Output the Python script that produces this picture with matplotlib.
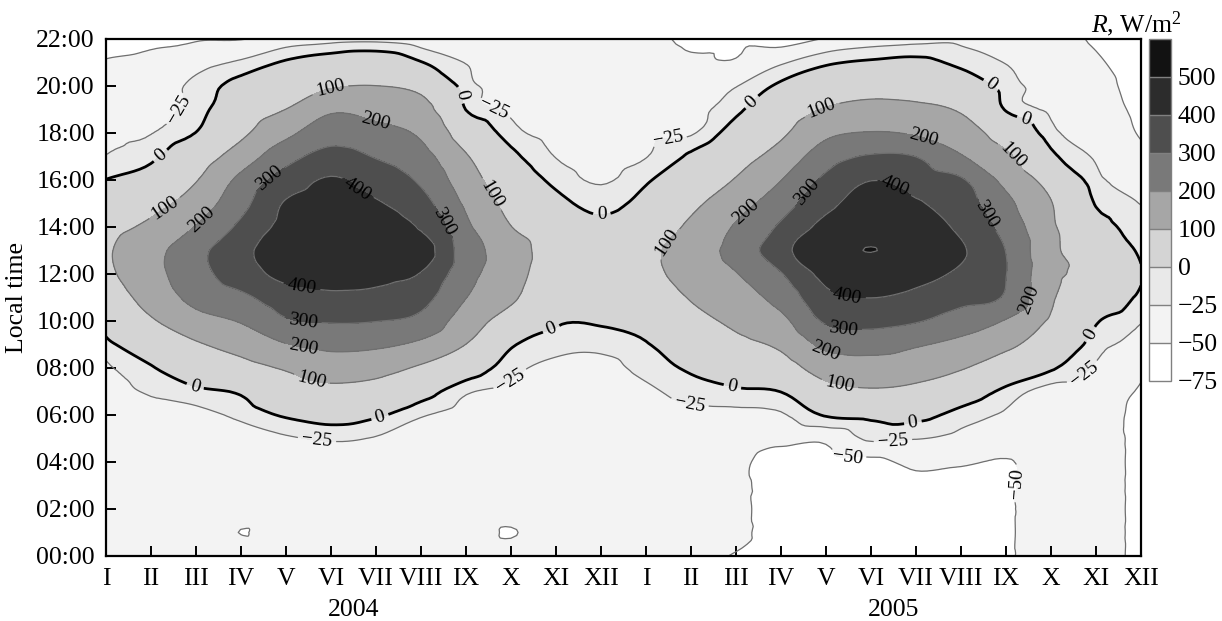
import numpy as np
import matplotlib

matplotlib.use("Agg")

import matplotlib.pyplot as plt  # noqa: E402
import matplotlib.tri as mtri  # noqa: E402
from matplotlib.transforms import blended_transform_factory  # noqa: E402

plt.rcParams["font.family"] = ["Liberation Serif", "DejaVu Serif"]
plt.rcParams["mathtext.fontset"] = "custom"
plt.rcParams["mathtext.rm"] = "Liberation Serif"
plt.rcParams["mathtext.it"] = "Liberation Serif:italic"

# Month labels (two years side by side) and hours of the day
MONTHS = ["I", "II", "III", "IV", "V", "VI", "VII", "VIII", "IX", "X", "XI", "XII"]
YEARS = ["2004", "2005"]
HOURS = list(range(23))

# Contour levels of net radiation R, W/m2
LEVELS = [-75, -50, -25, 0, 100, 200, 300, 400, 500, 600]
LINE_LEVELS = [-50, -25, 0, 100, 200, 300, 400, 500]

# R: one hourly profile (00..22 h) per month
R_2004 = [
    [-40, -40, -40, -40, -40, -40, -38, -35, -29, -10, 18, 50, 80, 88, 70, 35, 1, -24, -30, -36, -42, -49, -55],
    [-40, -40, -40, -40, -38, -35, -32, -22, -4, 35, 90, 135, 165, 165, 120, 70, 25, -8, -26, -32, -38, -46, -53],
    [-40, -41, -42, -42, -40, -37, -32, -8, 45, 90, 165, 230, 265, 270, 205, 145, 95, 50, 1, -15, -18, -35, -52],
    [-40, -50.3, -42, -42, -40, -35, -19, 6, 69, 136, 207, 279, 350, 370, 320, 269, 224, 147, 81, 48, 16, -21, -51],
    [-42, -42, -42, -42, -38, -28, 5, 55, 109, 196, 290, 353, 430, 460, 430, 409, 343, 264, 177, 101, 52, 5, -40],
    [-42, -42, -42, -42, -36, -22, 20, 77, 146, 225, 307, 381, 440, 470, 470, 445, 410, 333, 257, 186, 93, 24, -35],
    [-42, -42, -42, -42, -38, -27, 6, 65, 133, 217, 302, 377, 425, 455, 450, 410, 356, 294, 231, 167, 101, 31, -33],
    [-42, -42, -42, -42, -41, -34, -22, 20, 87, 180, 273, 335, 395, 450, 390, 337, 285, 235, 185, 135, 77, 2, -40],
    [-42, -43, -42, -42, -42, -40, -35, -21, 29, 99, 150, 202, 235, 250, 220, 185, 146, 108, 53, -1, -14, -26, -45],
    [-44, -50.8, -44, -43, -42, -41, -38, -32, -16, 6, 61, 115, 140, 150, 102, 71, 41, 12, -15, -30, -35, -40, -48],
    [-42, -42, -42, -42, -42, -42, -41, -38, -32, -15, 7, 30, 45, 50, 38, 14, -9, -26, -33, -38, -42, -46, -48],
    [-43, -43, -43, -43, -43, -43, -43, -40, -33, -18, 5, 22, 30, 24, 10, -10, -28, -35, -40, -43, -46, -47, -47],
]
R_2005 = [
    [-43, -43, -43, -43, -43, -43, -38, -30, -17, -3, 18, 42, 72, 74, 40, 16, -5, -26, -30, -35, -40, -43, -46],
    [-46, -44, -44, -44, -44, -38, -32, -15, 7, 40, 73, 106, 140, 155, 118, 79, 43, 7, -28, -33, -40, -47, -53],
    [-51, -46, -46, -46, -46, -40, -32, -6, 35, 78, 119, 158, 196, 230, 210, 161, 106, 62, 21, -8, -26, -48, -55],
    [-58, -58, -58, -58, -58, -44, -28, 1, 59, 118, 176, 235, 294, 370, 315, 256, 198, 138, 85, 46, 8, -28, -62],
    [-57, -57, -57, -57, -55, -45, 3, 69, 142, 224, 312, 375, 430, 470, 430, 374, 321, 254, 179, 107, 47, -6, -48],
    [-58, -58, -58, -58, -55, -21, 11, 90, 157, 239, 331, 401, 460, 501, 470, 440, 398, 309, 205, 130, 65, 6, -40],
    [-58, -58, -58, -55, -45, -24, 13, 77, 142, 210, 307, 376, 430, 470, 445, 410, 356, 299, 190, 120, 63, 11, -35],
    [-57, -57, -57, -54, -48, -32, -12, 31, 107, 173, 255, 328, 383, 411, 381, 346, 311, 207, 147, 91, 34, -9, -32],
    [-52, -52, -52, -52, -51, -41, -29, -9, 46, 121, 193, 290, 302, 298, 265, 225, 172, 117, 57, -3, -13, -26, -45],
    [-42, -42, -42, -42, -42, -42, -40, -36, 5, 50, 88, 112, 125, 122, 115, 104, 67, 11, -17, -30, -36, -40, -45],
    [-45, -45, -45, -45, -45, -45, -45, -38, -28, -14, 4, 41, 78, 50, 22, -3, -17, -28, -34, -40, -44, -48, -52],
    [-53, -53, -53, -53, -53, -53, -53, -52, -46, -33, -23, -9, 3, -7, -17, -26, -35, -44, -52, -55, -57, -58, -60],
]

# grey for each band between LEVELS, light to dark
BAND_GREYS = ["#ffffff", "#f3f3f3", "#e9e9e9", "#d4d4d4", "#a6a6a6",
              "#797979", "#4e4e4e", "#2c2c2c", "#121212"]

# where the inline contour labels sit (month index, hour)
LABEL_SPOTS = [
    (1.58, 19.1), (1.16, 17.15), (4.98, 19.9), (5.98, 18.4), (1.31, 14.8),
    (2.13, 14.3), (3.71, 15.9), (5.64, 15.8), (4.36, 11.5), (4.38, 10.0),
    (4.38, 8.9), (4.58, 7.6), (1.98, 7.2), (6.09, 5.9), (4.69, 4.95),
    (7.82, 19.6), (8.6, 18.85), (7.49, 14.2), (8.58, 15.4), (11.02, 14.5),
    (9.93, 9.5), (8.98, 7.5),
    (12.47, 17.4), (14.31, 19.4), (12.49, 13.3), (14.24, 14.6), (15.64, 15.4),
    (15.91, 19.0), (18.16, 17.8), (17.58, 15.9), (19.47, 14.4), (20.04, 16.85),
    (19.53, 19.7), (20.47, 18.85), (20.31, 11.0), (16.47, 11.0), (16.38, 9.5),
    (15.98, 8.7), (16.31, 7.35), (13.93, 7.3), (12.98, 6.55), (17.93, 5.7),
    (17.49, 4.85), (16.47, 4.3), (20.2, 3.1), (21.8, 9.5), (21.64, 7.9),
]


def _fmt(v):
    return f"{v:g}".replace("-", "\u2212")


months_axis = np.arange(len(MONTHS) * len(YEARS))
Z = np.array(R_2004 + R_2005, dtype=float).T

# let matplotlib's triangulation refiner smooth the coarse month/hour grid
mm, hh = np.meshgrid(months_axis, HOURS)
tri = mtri.Triangulation(mm.ravel().astype(float), hh.ravel().astype(float))
interp = mtri.CubicTriInterpolator(tri, Z.ravel(), kind="geom")
tri_fine, z_fine = mtri.UniformTriRefiner(tri).refine_field(
    Z.ravel(), triinterpolator=interp, subdiv=3)

fig = plt.figure(figsize=(12.22, 6.21), dpi=100)
ax = fig.add_axes([0.0867, 0.1047, 0.847, 0.8325])

cf = ax.tricontourf(tri_fine, z_fine, levels=LEVELS, colors=BAND_GREYS)
line_colors = ["black" if lv == 0 else "#6f6f6f" for lv in LINE_LEVELS]
line_widths = [2.0 if lv == 0 else 0.9 for lv in LINE_LEVELS]
cs = ax.tricontour(tri_fine, z_fine, levels=LINE_LEVELS,
                   colors=line_colors, linewidths=line_widths)
ax.clabel(cs, manual=LABEL_SPOTS, inline=True, fmt=_fmt,
          fontsize=14, inline_spacing=4, colors="black")

ax.set_xlim(0, len(months_axis) - 1)
ax.set_ylim(0, 22)
ax.set_xticks(months_axis)
ax.set_xticklabels(MONTHS * len(YEARS))
ax.set_yticks(HOURS[::2])
ax.set_yticklabels([f"{h:02d}:00" for h in HOURS[::2]])
ax.tick_params(direction="in", length=7, width=1.4, labelsize=18.5, pad=8)
ax.tick_params(axis="x", pad=9)
for sp in ax.spines.values():
    sp.set_linewidth(1.6)
ax.set_ylabel("Local time", fontsize=18.5, labelpad=6)

trans = blended_transform_factory(ax.transData, ax.transAxes)
for i, year in enumerate(YEARS):
    ax.text(5.5 + 12 * i, -0.104, year, transform=trans,
            ha="center", va="center", fontsize=18.5)

cax = fig.add_axes([0.9403, 0.3865, 0.018, 0.5507])
cbar = fig.colorbar(cf, cax=cax, ticks=LEVELS[:-1], drawedges=True)
cbar.ax.set_yticklabels([_fmt(v) for v in LEVELS[:-1]])
cbar.ax.tick_params(length=0, labelsize=18.5, pad=5)
cbar.outline.set_edgecolor("#808080")
cbar.outline.set_linewidth(1.0)
cbar.dividers.set_color("#808080")
cbar.dividers.set_linewidth(1.0)

fig.text(1181 / 1222, 1 - 24 / 621, r"$R$, W/m$^2$", ha="right", va="center",
         fontsize=18.5)

fig.savefig("out.png", dpi=100)
